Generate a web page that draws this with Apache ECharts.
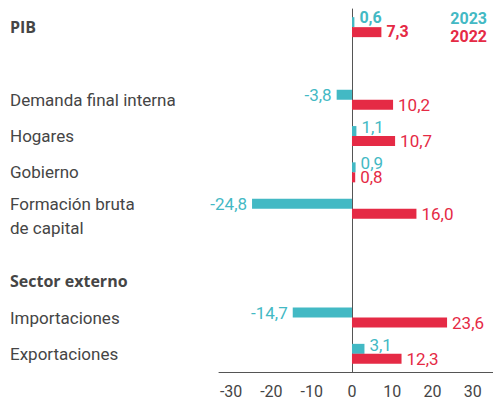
<!DOCTYPE html>
<html>
<head>
<meta charset="utf-8">
<script src="https://cdn.jsdelivr.net/npm/echarts@6/dist/echarts.min.js"></script>
<style>
  html, body { margin: 0; padding: 0; background: #fff; }
  #chart { width: 493px; height: 406px; }
</style>
</head>
<body>
<div id="chart"></div>
<script>
// categories, top to bottom (blank rows are spacers)
const categories = [
  "PIB", "", "Demanda final interna", "Hogares", "Gobierno",
  "Formación bruta\nde capital", " ", "Sector externo", "Importaciones", "Exportaciones"
];
const values2023 = [0.6, null, -3.8, 1.1, 0.9, -24.8, null, null, -14.7, 3.1];
const values2022 = [7.3, null, 10.2, 10.7, 0.8, 16.0, null, null, 23.6, 12.3];
const xTicks = [-30, -20, -10, 0, 10, 20, 30];
const boldRows = ["PIB", "Sector externo"];

const TEAL = "#43b9c4";
const RED = "#e52a45";
const TEXT = "#454545";
const FONT = "Roboto";

function fmt(v) {
  return v.toFixed(1).replace(".", ",");
}

function toItems(values, color, upShift) {
  return values.map((v, i) => {
    if (v == null) return null;
    const bold = i === 0;
    return {
      value: v,
      label: {
        show: true,
        position: v < 0 ? "left" : "right",
        distance: 5,
        offset: [0, v < 0 ? 0 : upShift - (bold ? 1 : 0)],
        color: color,
        fontFamily: FONT,
        fontSize: bold ? 16 : 17,
        fontWeight: bold ? "bold" : "normal",
        formatter: (p) => fmt(p.value),
      },
    };
  });
}

const chart = echarts.init(document.getElementById("chart"), null, { renderer: "svg" });

const labelAxis = {
  type: "category",
  inverse: true,
  position: "left",
  offset: 209,
  data: categories.map((c) => ({
    value: c,
    textStyle: c.indexOf("\n") >= 0 ? { padding: [14, 0, 0, 0], lineHeight: 24 } : {},
  })),
  axisTick: { show: false },
  axisLine: { show: false, onZero: false },
  axisLabel: {
    inside: true,
    margin: 0,
    color: TEXT,
    fontFamily: FONT,
    fontSize: 17,
    interval: 0,
    formatter: (v) => boldRows.includes(v) ? "{b|" + v + "}" : v,
    rich: {
      b: { fontWeight: "bold", fontFamily: "Open Sans", fontSize: 16, color: TEXT },
    },
  },
};

chart.setOption({
  animation: false,
  grid: { left: 219, right: 0, top: 9, height: 363, containLabel: false, outerBoundsMode: "none" },
  legend: {
    orient: "vertical",
    right: 1,
    top: 5,
    itemGap: 2,
    itemWidth: 0,
    itemHeight: 0,
    icon: "rect",
    selectedMode: false,
    data: [
      { name: "2023", textStyle: { color: TEAL } },
      { name: "2022", textStyle: { color: RED } },
    ],
    textStyle: { fontFamily: FONT, fontSize: 16, fontWeight: "bold" },
  },
  xAxis: {
    type: "value",
    min: -33,
    max: 35,
    splitLine: { show: false },
    axisTick: { show: false },
    axisLine: { show: true, lineStyle: { color: "#555", width: 1 } },
    axisLabel: {
      customValues: xTicks,
      color: TEXT,
      fontFamily: FONT,
      fontSize: 16,
      margin: 11,
      formatter: (v) => String(v),
    },
  },
  yAxis: [
    {
      type: "category",
      inverse: true,
      data: categories,
      axisTick: { show: false },
      axisLabel: { show: false },
      axisLine: { show: true, onZero: true, lineStyle: { color: "#555", width: 1 } },
    },
    labelAxis,
  ],
  series: [
    {
      name: "2023",
      type: "bar",
      barWidth: 10,
      barGap: "0%",
      itemStyle: { color: TEAL },
      data: toItems(values2023, TEAL, -4),
    },
    {
      name: "2022",
      type: "bar",
      barWidth: 10,
      barGap: "0%",
      itemStyle: { color: RED },
      data: toItems(values2022, RED, 0),
    },
  ],
});
</script>
</body>
</html>
